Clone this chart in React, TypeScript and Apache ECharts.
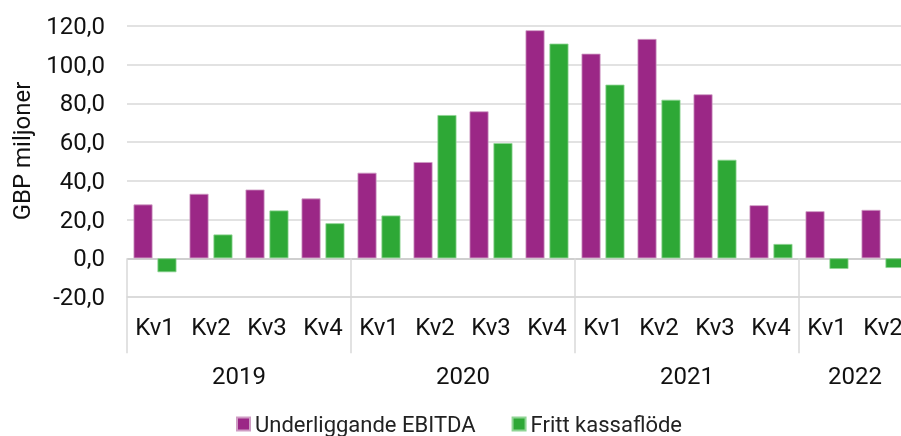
import React, { useEffect, useRef } from "react";
import * as echarts from "echarts";

const quarters = ["Kv1", "Kv2", "Kv3", "Kv4", "Kv1", "Kv2", "Kv3", "Kv4", "Kv1", "Kv2", "Kv3", "Kv4", "Kv1", "Kv2"];
const years = ["2019", "2020", "2021", "2022"];
const quartersPerYear = [4, 4, 4, 2];
const ebitda = [27.8, 33.3, 35.5, 30.9, 44.2, 49.7, 75.9, 117.8, 105.7, 113.3, 84.7, 27.4, 24.3, 25.0];
const fcf = [-7.2, 12.3, 24.7, 18.1, 22.1, 74.0, 59.5, 110.9, 89.7, 81.9, 50.9, 7.4, -5.5, -5.0];
const seriesNames = ["Underliggande EBITDA", "Fritt kassaflöde"];
const yAxisTitle = "GBP miljoner";

export default function App() {
  const ref = useRef<HTMLDivElement>(null);
  useEffect(() => {
    if (!ref.current) return;
    const chart = echarts.init(ref.current, undefined, { renderer: "svg" });

    const slots: string[] = new Array(quarters.length + 1).fill("");
    const boundaries: number[] = [0];
    let start = 0;
    years.forEach((y, i) => {
      const n = quartersPerYear[i];
      if (n % 2 === 0) slots[start + n / 2] = y;
      start += n;
      boundaries.push(start);
    });

    const font = "Roboto";
    const textColor = "#111";
    const gridColor = "#d9d9d9";

    chart.setOption({
      animation: false,
      textStyle: { fontFamily: font },
      grid: { left: 127, top: 26, width: 784, height: 271, containLabel: false, outerBoundsMode: "none" },
      legend: {
        left: 236,
        top: 413,
        padding: 0,
        itemWidth: 13,
        itemHeight: 13,
        itemGap: 36,
        icon: "rect",
        textStyle: { fontSize: 22, color: "#222", fontFamily: font },
        data: seriesNames,
      },
      graphic: [
        {
          type: "text",
          x: 22,
          y: 151,
          rotation: Math.PI / 2,
          style: {
            text: yAxisTitle,
            fontSize: 24,
            fontFamily: font,
            fill: textColor,
            textAlign: "center",
            textVerticalAlign: "middle",
          },
        },
      ],
      xAxis: [
        {
          type: "category",
          data: quarters,
          position: "bottom",
          axisLine: { show: true, onZero: false, lineStyle: { color: gridColor, width: 1.5 } },
          axisTick: { show: false },
          axisLabel: { interval: 0, fontSize: 24, margin: 18, color: textColor, fontFamily: font },
          splitLine: { show: false },
        },
        {
          type: "category",
          data: slots,
          boundaryGap: false,
          position: "bottom",
          axisLine: { show: false },
          axisTick: {
            show: true,
            interval: (i: number) => boundaries.includes(i),
            length: 95,
            lineStyle: { color: gridColor, width: 1.5 },
          },
          axisLabel: { interval: 0, fontSize: 24, margin: 67, color: textColor, fontFamily: font },
          splitLine: { show: false },
        },
      ],
      yAxis: {
        type: "value",
        min: -20,
        max: 120,
        interval: 20,
        axisLine: { show: false },
        axisTick: { show: false },
        axisLabel: {
          fontSize: 24,
          margin: 22,
          color: textColor,
          fontFamily: font,
          formatter: (v: number) => v.toFixed(1).replace(".", ","),
        },
        splitLine: {
          show: true,
          lineStyle: {
            color: [gridColor, "#bfbfbf", gridColor, gridColor, gridColor, gridColor, gridColor, gridColor],
            width: 1.5,
          },
        },
      },
      series: [
        {
          name: seriesNames[0],
          type: "bar",
          data: ebitda,
          barWidth: 19,
          barGap: "26%",
          itemStyle: { color: "#9b2786", borderColor: "#cf9cc4", borderWidth: 0.8 },
        },
        {
          name: seriesNames[1],
          type: "bar",
          data: fcf,
          barWidth: 19,
          itemStyle: { color: "#2ea836", borderColor: "#8fd494", borderWidth: 0.8 },
        },
      ],
    });
    return () => chart.dispose();
  }, []);
  return <div ref={ref} style={{ position: "fixed", left: 0, top: 0, width: 901, height: 436 }} />;
}
